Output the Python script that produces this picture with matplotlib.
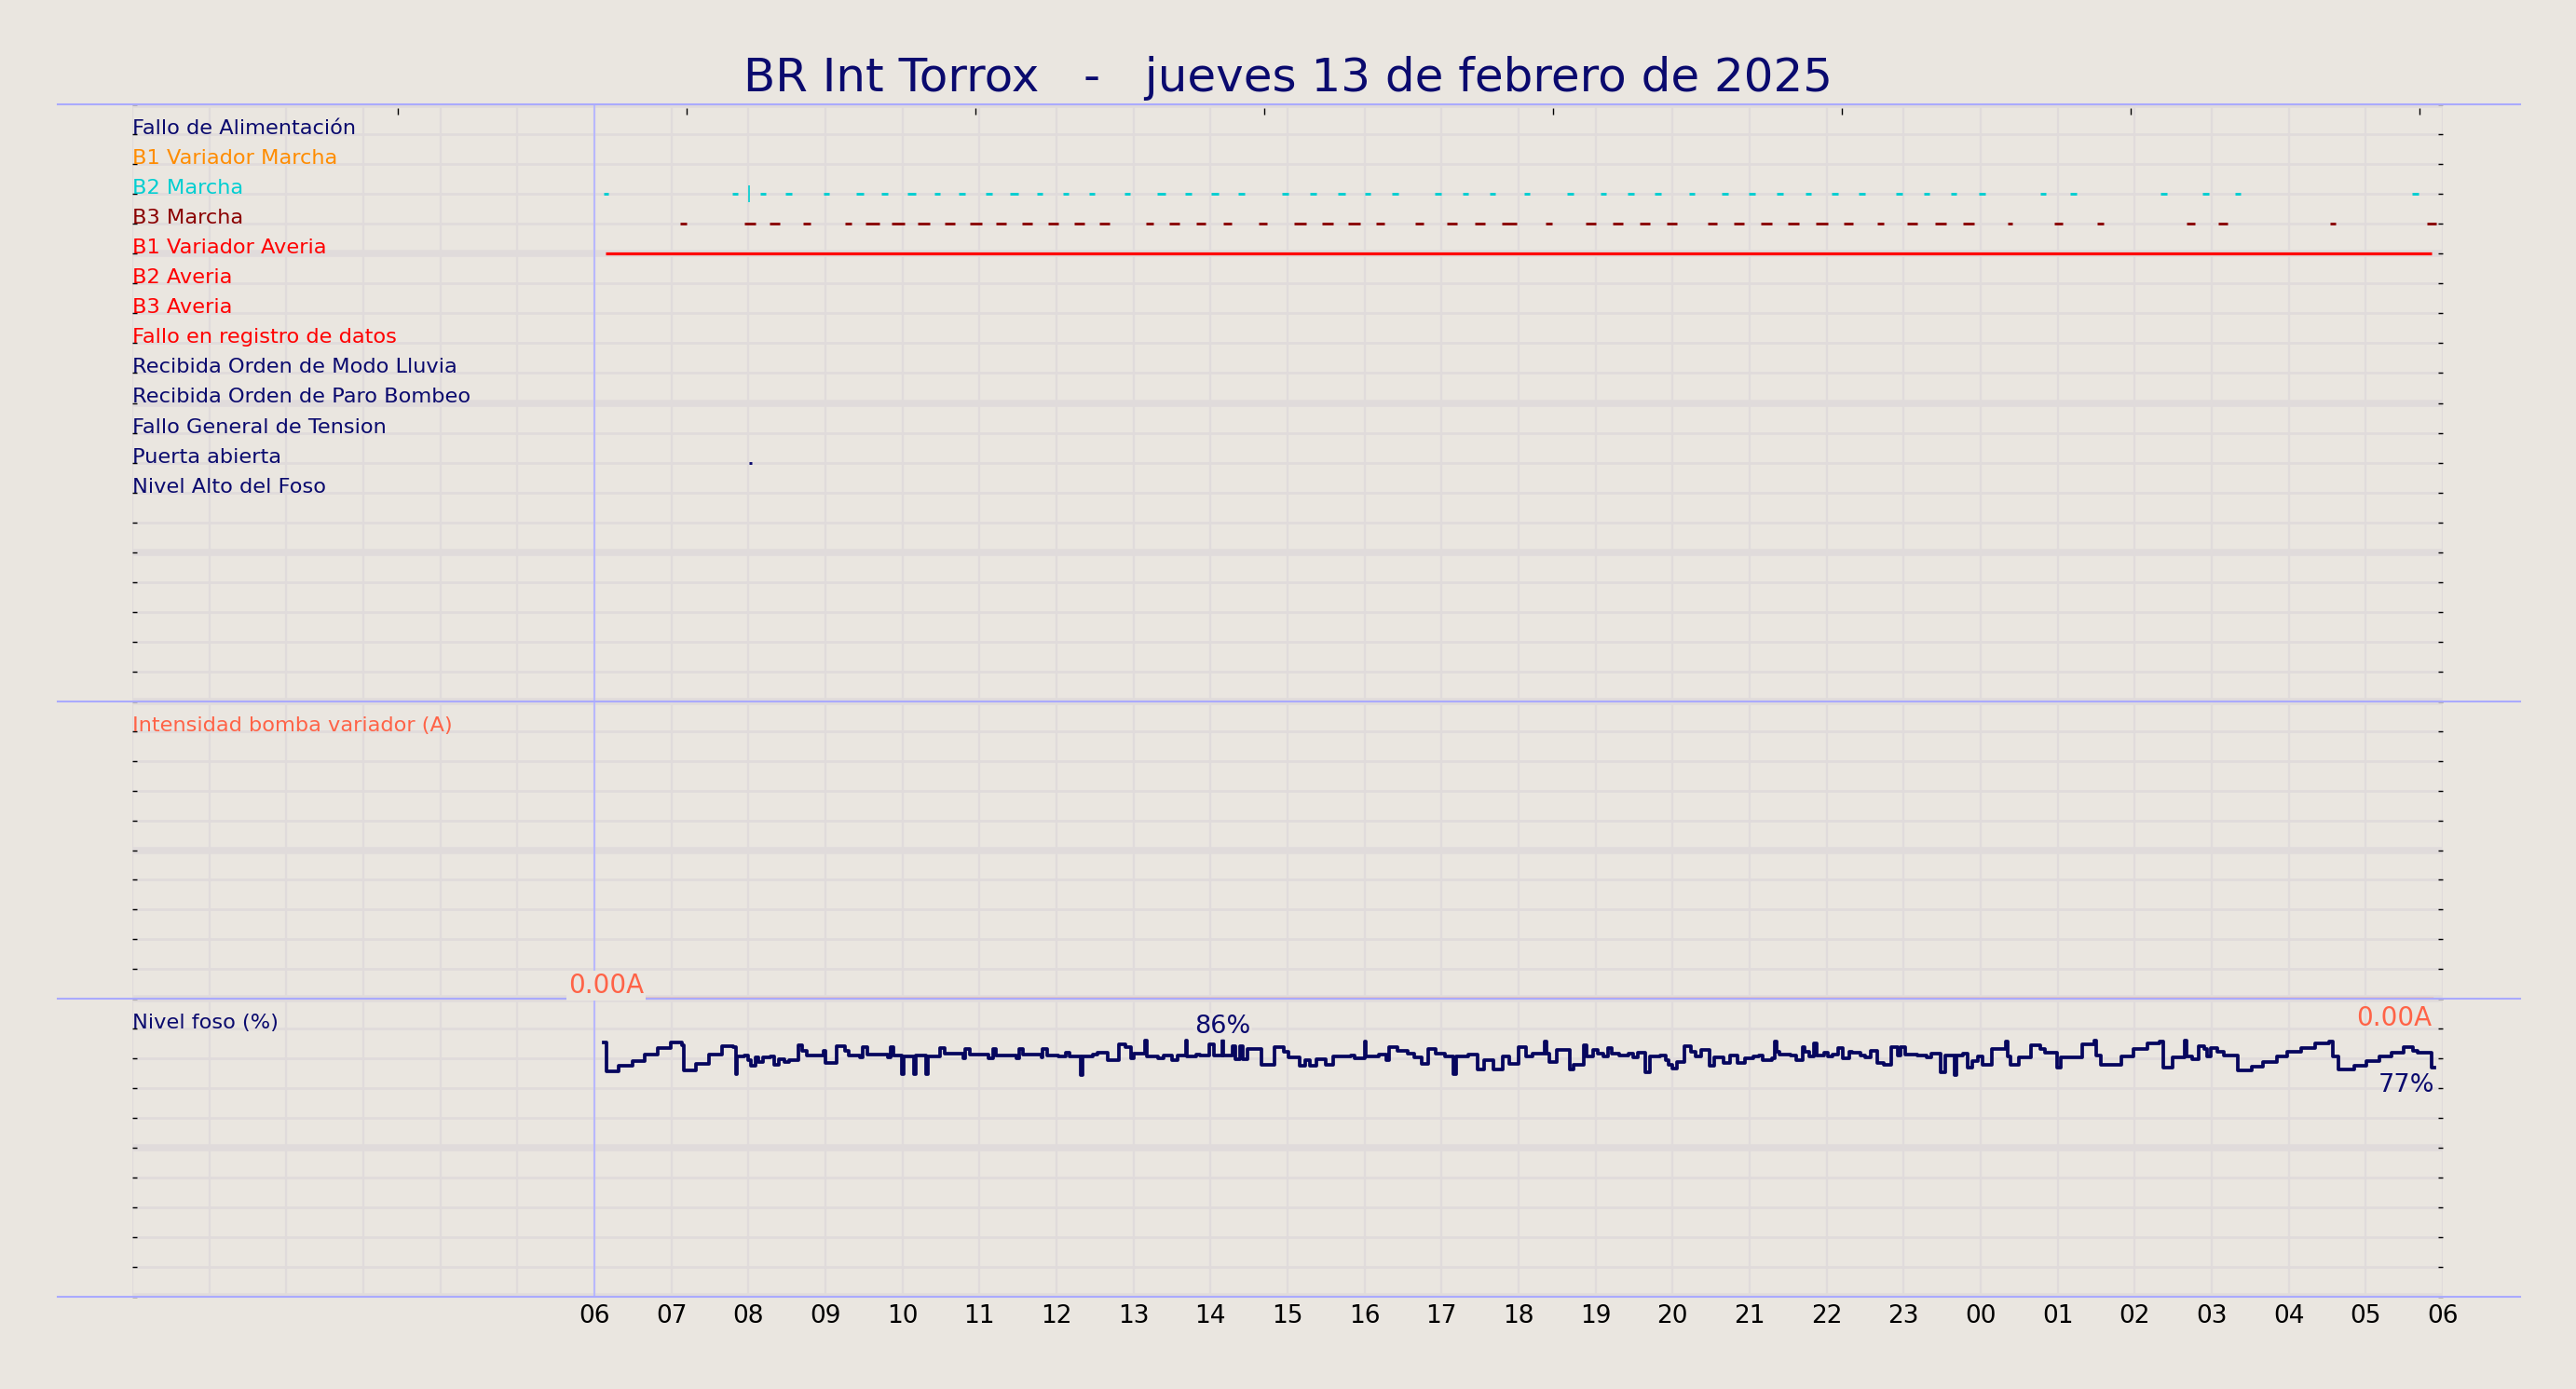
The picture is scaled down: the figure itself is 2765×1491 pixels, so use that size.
import matplotlib
matplotlib.use('Agg')
import matplotlib.pyplot as plt
from matplotlib.lines import Line2D
import numpy as np

BG = '#eae6e0'
GRID = '#e0dbdb'
NAVY = '#0a0a6e'
LINE_NAVY = '#06065e'
SEP_BLUE = '#aaaaff'

title = 'BR Int Torrox   -   jueves 13 de febrero de 2025'

# hours are counted from 06:00 of the chart day
hour_labels = ['06', '07', '08', '09', '10', '11', '12', '13', '14', '15', '16', '17', '18',
               '19', '20', '21', '22', '23', '00', '01', '02', '03', '04', '05', '06']
top_ticks = [-2.55, 1.2, 4.95, 8.7, 12.45, 16.2, 19.95, 23.7]

signal_names = ['Fallo de Alimentación', 'B1 Variador Marcha', 'B2 Marcha', 'B3 Marcha',
                'B1 Variador Averia', 'B2 Averia', 'B3 Averia', 'Fallo en registro de datos',
                'Recibida Orden de Modo Lluvia', 'Recibida Orden de Paro Bombeo',
                'Fallo General de Tension', 'Puerta abierta', 'Nivel Alto del Foso']
signal_colors = [NAVY, 'darkorange', 'darkturquoise', 'darkred', 'red', 'red', 'red', 'red',
                 NAVY, NAVY, NAVY, NAVY, NAVY]

# B2 Marcha running periods (hours after 06:00)
b2_start = [0.12, 1.79, 2.15, 2.48, 2.98, 3.40, 3.73, 4.07, 4.41, 4.73, 5.08, 5.40, 5.74,
            6.08, 6.42, 6.88, 7.31, 7.67, 8.01, 8.36, 8.93, 9.29, 9.65, 10.00, 10.36,
            10.91, 11.27, 11.62, 12.07, 12.63, 13.06, 13.42, 13.77, 14.21, 14.64, 14.99,
            15.35, 15.72, 16.07, 16.42, 16.90, 17.26, 17.61, 17.98, 18.77, 19.16, 20.34,
            20.88, 21.30, 23.60]
b2_end = [0.18, 1.86, 2.22, 2.56, 3.05, 3.49, 3.81, 4.17, 4.49, 4.81, 5.16, 5.50, 5.82,
          6.16, 6.50, 6.96, 7.42, 7.75, 8.11, 8.44, 9.01, 9.38, 9.75, 10.08, 10.44,
          10.99, 11.35, 11.70, 12.15, 12.71, 13.14, 13.50, 13.85, 14.29, 14.72, 15.07,
          15.43, 15.80, 16.15, 16.50, 16.98, 17.34, 17.69, 18.06, 18.85, 19.24, 20.42,
          20.96, 21.38, 23.68]
b2_pulse = [2.01]

# B3 Marcha running periods
b3_start = [1.11, 1.95, 2.27, 2.71, 3.25, 3.52, 3.86, 4.20, 4.55, 4.88, 5.21, 5.55, 5.89,
            6.23, 6.56, 7.16, 7.46, 7.81, 8.16, 8.63, 9.09, 9.45, 9.79, 10.15, 10.66,
            11.07, 11.43, 11.78, 12.35, 12.87, 13.22, 13.57, 13.92, 14.46, 14.79, 15.14,
            15.49, 15.86, 16.22, 16.66, 17.04, 17.41, 17.77, 18.35, 18.95, 19.51, 20.67,
            21.09, 22.54, 23.79]
b3_end = [1.20, 2.09, 2.41, 2.81, 3.34, 3.70, 4.03, 4.36, 4.68, 5.03, 5.35, 5.69, 6.03,
          6.36, 6.69, 7.26, 7.60, 7.94, 8.28, 8.73, 9.24, 9.59, 9.94, 10.26, 10.77,
          11.20, 11.57, 11.98, 12.44, 13.00, 13.35, 13.70, 14.06, 14.58, 14.93, 15.29,
          15.64, 16.02, 16.34, 16.74, 17.18, 17.55, 17.91, 18.41, 19.06, 19.60, 20.78,
          21.20, 22.61, 23.91]

b1_fault_start = [0.15]
b1_fault_end = [23.86]
door_start = [2.01]
door_end = [2.05]

current_h = [0.15, 23.86]
current_a = [0.0, 0.0]

# pit level, minutes after 06:00 and percent
level_min = [7.3, 9.2, 18.9, 29.8, 39.5, 49.6, 59.3, 68.5, 69.7, 79.4, 89.6, 99.3, 108.5,
             110.2, 111.1, 116.9, 119.8, 121.8, 125.4, 127.8, 131.5, 137.5, 139.9, 143.6,
             148.4, 152, 159.3, 161.7, 165.8, 178.7, 179.9, 188.8, 195.6, 198, 206.5, 208.9,
             212.6, 228.3, 230.7, 232.7, 239.2, 240.9, 248.9, 250.1, 258.6, 259.8, 269.5,
             273.1, 287.6, 288.8, 292.5, 307, 310.6, 313, 328.8, 331.2, 333.6, 348.1, 349.3,
             353, 361.4, 367.5, 369.9, 378.9, 380.3, 388.1, 391.7, 400.2, 408.7, 413.5,
             418.3, 420, 429.2, 430.4, 438.9, 443.8, 449.8, 454.7, 460.7, 461.9, 469.2,
             471.6, 478.9, 482.5, 489.3, 490.2, 497, 499.4, 503.1, 504.8, 509.1, 520, 529.7,
             537, 540.6, 549.1, 553.9, 557.5, 562.4, 569.6, 575.7, 589, 592.6, 599.9, 601.1,
             610.8, 616.9, 619.3, 625.8, 633.8, 638.6, 644.7, 649.5, 655.6, 662.9, 668.9,
             671.3, 681, 688.3, 693.1, 700.4, 707.6, 712.5, 719.7, 725.9, 730.7, 740.4,
             741.6, 744, 750.1, 759.7, 762.9, 770.6, 773.1, 777.9, 781.5, 786.4, 790, 792.4,
             798.5, 805.7, 809.4, 813, 819, 822.7, 830, 834.8, 837.2, 839.6, 843.3, 849.3,
             854.2, 857.8, 862.6, 868.7, 872.3, 879.6, 884.4, 890.5, 896.5, 902.6, 907.4,
             909.8, 917.1, 919.5, 921.2, 923.2, 931.6, 936.5, 941.3, 942.5, 946.2, 949.8,
             952.2, 958.3, 960.7, 964.3, 969.2, 972.8, 977.6, 980.1, 986.1, 989.7, 994.6,
             999.4, 1004.3, 1010.3, 1015.2, 1017.6, 1021.2, 1030.9, 1038.2, 1041.8, 1049.1,
             1052.7, 1060, 1061.2, 1066, 1069.6, 1073.3, 1078.1, 1081.7, 1089, 1099.8,
             1101.1, 1103.5, 1109.5, 1119.2, 1126.5, 1130.1, 1139.8, 1142.2, 1159.2, 1168.8,
             1170.1, 1173.7, 1189.4, 1199.1, 1210, 1219.7, 1222.1, 1229.4, 1239.1, 1240.7,
             1244.6, 1249.9, 1254.3, 1256.7, 1259.6, 1264.5, 1269.3, 1280.2, 1291.1, 1299.6,
             1310.5, 1318.9, 1329.8, 1340.7, 1351.6, 1354, 1358.9, 1371, 1380.7, 1390.4,
             1400.1, 1409.7, 1417, 1420.6, 1431.5, 1433.5]
level_pct = [85.2, 75.5, 77.4, 79.2, 81.4, 83.4, 85.2, 84.5, 75.8, 78.1, 81.2, 84.2, 83.6,
             74.6, 80.5, 81.0, 79.5, 77.6, 80.2, 78.6, 80.2, 80.7, 77.9, 79.7,
             78.6, 79.3, 84.5, 82.6, 80.8, 82.4, 78.4, 84.0, 82.6, 80.8, 80.2, 83.9,
             81.2, 80.2, 83.6, 81.0, 74.6, 80.7, 74.6, 81.0, 74.6, 80.7, 83.3,
             81.6, 80.0, 83.1, 81.2, 80.0, 83.1, 81.0, 80.0, 83.1, 81.2, 80.2, 83.1,
             81.0, 80.5, 81.8, 80.7, 74.5, 80.5, 81.4, 81.8, 79.3, 84.7, 83.6,
             80.0, 81.6, 85.9, 80.7, 80.0, 81.0, 79.5, 81.0, 85.9, 80.5, 81.4,
             80.8, 84.7, 81.0, 86.0, 80.8, 84.2, 79.7, 84.2, 79.7, 83.1, 77.9, 83.6,
             82.1, 80.3, 77.4, 79.3, 77.6, 79.7, 77.9, 80.5, 81.0, 80.0, 85.7, 80.5,
             81.4, 79.5, 83.6, 82.6, 81.6, 80.3, 78.2, 83.1, 81.6, 80.5, 74.8,
             80.5, 81.4, 76.4, 79.5, 76.4, 80.5, 78.2, 83.9, 80.7, 81.6, 85.6,
             81.6, 78.6, 82.8, 76.1, 77.9, 84.5, 80.7, 82.8, 81.6, 80.5, 83.4, 81.6,
             81.0, 81.6, 80.2, 81.8, 75.3, 80.5, 81.0, 79.5, 77.9, 76.6, 78.6, 84.2,
             82.1, 80.5, 82.8, 77.4, 80.3, 78.4, 80.8, 78.4, 80.0, 80.5, 81.0,
             79.3, 80.0, 85.7, 82.1, 81.4, 81.0, 79.5, 83.9, 82.1, 80.5, 85.0,
             81.0, 81.8, 80.5, 81.4, 83.4, 80.0, 82.1, 81.8, 81.0, 80.3, 82.4,
             78.4, 77.9, 83.6, 81.0, 83.9, 81.4, 81.0, 80.3, 81.6, 75.3,
             81.0, 74.3, 81.0, 81.6, 76.9, 79.0, 80.5, 77.9, 83.1, 85.5,
             80.5, 77.9, 80.3, 84.4, 83.1, 81.8, 76.9, 80.2, 84.7, 85.8,
             81.0, 77.9, 80.5, 83.1, 84.9, 85.7, 76.9, 80.2, 85.8, 80.5,
             79.7, 84.2, 83.1, 80.5, 83.4, 82.1, 81.0, 75.8, 77.2, 78.6,
             80.5, 82.1, 83.4, 85.0, 85.5, 80.5, 76.1, 77.6, 79.0, 80.5,
             81.8, 83.6, 82.6, 81.8, 76.9, 76.9]


def style_axes(ax, nrows):
    ax.patch.set_visible(False)
    ax.set_xlim(-6, 24)
    ax.set_ylim(nrows, 0)
    ax.set_xticks(np.arange(-6, 25))
    ax.set_yticks(np.arange(0, nrows + 1, 5))
    ax.set_yticks(np.arange(1, nrows), minor=True)
    ax.xaxis.grid(True, color=GRID, lw=1.7)
    ax.yaxis.grid(True, which='major', color=GRID, lw=5.4)
    ax.yaxis.grid(True, which='minor', color=GRID, lw=2)
    ax.set_axisbelow(True)
    ax.tick_params(axis='y', which='both', left=True, right=True, direction='in',
                   length=3.5, width=1, labelleft=False)
    ax.tick_params(axis='x', length=0, labelbottom=False)
    for s in ax.spines.values():
        s.set_visible(False)
    ax.axvline(0, color='#b8b8ff', lw=1.5, zorder=1)


def hbars(ax, y, starts, ends, **kw):
    ax.hlines(np.full(len(starts), y), starts, ends, **kw)


W_PX, H_PX = 2765, 1491
fig = plt.figure(figsize=(W_PX / 100, H_PX / 100), dpi=100, facecolor=BG)


def fy(px):
    return 1 - px / H_PX


left, width = 142 / W_PX, 2480 / W_PX
ax_sig = fig.add_axes([left, fy(753), width, fy(112) - fy(753)])
ax_amp = fig.add_axes([left, fy(1072), width, fy(753) - fy(1072)])
ax_lvl = fig.add_axes([left, fy(1392), width, fy(1072) - fy(1392)])
style_axes(ax_sig, 20)
style_axes(ax_amp, 10)
style_axes(ax_lvl, 10)

LABEL_FS = 16.2

# --- digital signals ---
for i, (name, c) in enumerate(zip(signal_names, signal_colors)):
    ax_sig.text(-6, i + 1, name, color=c, fontsize=LABEL_FS, ha='left', va='baseline')

row = {n: i + 1 for i, n in enumerate(signal_names)}
hbars(ax_sig, row['B2 Marcha'], b2_start, b2_end, color='darkturquoise', lw=2.1)
ax_sig.vlines(b2_pulse, row['B2 Marcha'] - 0.27, row['B2 Marcha'] + 0.27,
              color='darkturquoise', lw=1.2)
hbars(ax_sig, row['B3 Marcha'], b3_start, b3_end, color='darkred', lw=2.1)
hbars(ax_sig, row['B1 Variador Averia'], b1_fault_start, b1_fault_end, color='red', lw=2.3)
hbars(ax_sig, row['Puerta abierta'], door_start, door_end, color=NAVY, lw=2.1)

secax = ax_sig.secondary_xaxis(0.993)
secax.set_xticks(top_ticks)
secax.tick_params(direction='in', length=5, width=1, labeltop=False, labelbottom=False)
for s in secax.spines.values():
    s.set_visible(False)

# --- pump current ---
ax_amp.text(-6, 1, 'Intensidad bomba variador (A)', color='tomato', fontsize=LABEL_FS,
            ha='left', va='baseline')
amp_rows = 10 - np.array(current_a)
ax_amp.plot(current_h, amp_rows, color='tomato', lw=2.4, clip_on=False, zorder=3)
fig.text(current_h[0], amp_rows[0], '{:.2f}A'.format(current_a[0]), transform=ax_amp.transData,
         ha='center', va='bottom', fontsize=20, color='tomato', zorder=5,
         bbox=dict(boxstyle='square,pad=0.08', fc=BG, ec='none'))
fig.text(current_h[-1], amp_rows[-1] + 0.22, '{:.2f}A'.format(current_a[-1]),
         transform=ax_amp.transData, ha='right', va='top', fontsize=20, color='tomato',
         zorder=5)

# --- pit level ---
ax_lvl.text(-6, 1, 'Nivel foso (%)', color=NAVY, fontsize=LABEL_FS, ha='left', va='baseline')
lvl_h = np.array(level_min) / 60
lvl = np.array(level_pct)
lvl_rows = (100 - lvl) / 10
ax_lvl.plot(lvl_h, lvl_rows, drawstyle='steps-post', color=LINE_NAVY, lw=2.7, zorder=3)
imax = int(np.argmax(lvl))
ax_lvl.annotate('{:.0f}%'.format(lvl[imax]), (lvl_h[imax], lvl_rows[imax]), xytext=(0, 1.5),
                textcoords='offset points', ha='center', va='bottom', fontsize=19.5, color=NAVY,
                zorder=5, bbox=dict(boxstyle='square,pad=0.05', fc=BG, ec='none', alpha=0.7))
ax_lvl.annotate('{:.0f}%'.format(lvl[-1]), (lvl_h[-1], lvl_rows[-1]), xytext=(0, -4.5),
                textcoords='offset points', ha='right', va='top', fontsize=19.5, color=NAVY,
                zorder=5)

ax_lvl.set_xticklabels([''] * 6 + hour_labels)
ax_lvl.tick_params(axis='x', labelbottom=True, labelsize=19, pad=6)

# separator lines across the figure
for ypx in [112, 753, 1072, 1392]:
    fig.add_artist(Line2D([62 / W_PX, 2705 / W_PX], [fy(ypx), fy(ypx)], color=SEP_BLUE,
                          lw=1.5, zorder=2))

fig.text(0.5, fy(98), title, ha='center', va='baseline', fontsize=36, color=NAVY)

fig.savefig('out.png', dpi=100, facecolor=BG)
